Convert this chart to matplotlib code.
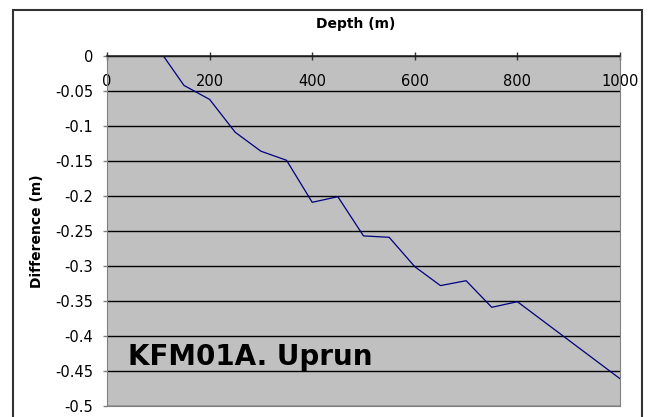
import numpy as np
import matplotlib
matplotlib.use('Agg')
import matplotlib.pyplot as plt
from matplotlib.patches import Rectangle

# borehole depth (m) and measured difference (m)
depth = [110, 150, 200, 250, 300, 350, 400, 450, 500, 550, 600, 650, 700, 750, 800, 1000]
diff = [0.0, -0.042, -0.062, -0.109, -0.136, -0.149, -0.209, -0.201,
        -0.257, -0.259, -0.301, -0.328, -0.321, -0.359, -0.351, -0.461]

x_ticks = [0, 200, 400, 600, 800, 1000]
y_ticks = np.arange(0, -0.51, -0.05)
y_labels = ['0', '-0.05', '-0.1', '-0.15', '-0.2', '-0.25', '-0.3',
            '-0.35', '-0.4', '-0.45', '-0.5']

W, H = 648, 417
fig = plt.figure(figsize=(W / 100, H / 100), dpi=100)

# chart frame
fig.patches.append(Rectangle((13 / W, -0.05), (642 - 13) / W, 1.05 - 10 / H,
                             transform=fig.transFigure, fill=False,
                             edgecolor='#333333', linewidth=1.5))

left, right, top, bottom = 107, 620, 56, 406
ax = fig.add_axes([left / W, (H - bottom) / H, (right - left) / W, (bottom - top) / H])
ax.set_facecolor('#c0c0c0')

ax.plot(depth, diff, color='#000080', linewidth=0.9, zorder=3)

ax.set_xlim(0, 1000)
ax.set_ylim(-0.5, 0)

ax.set_yticks(y_ticks)
ax.set_yticklabels(y_labels)
ax.yaxis.grid(True, color='black', linewidth=1)
ax.set_axisbelow(True)

ax.xaxis.tick_top()
ax.set_xticks(x_ticks)
ax.tick_params(axis='x', direction='inout', length=6, width=1, color='#333333',
               labelsize=10.5, pad=-27)
ax.tick_params(axis='y', direction='out', length=3, width=1, color='#808080',
               labelsize=10.5, pad=7)

for s in ['left', 'right', 'bottom']:
    ax.spines[s].set_color('#808080')
ax.spines['top'].set_color('#222222')
ax.spines['top'].set_linewidth(1.2)
ax.spines['top'].set_zorder(4)

fig.text(356 / W, 1 - 24 / H, 'Depth (m)', fontsize=10, fontweight='bold',
         ha='center', va='center')
fig.text(37 / W, 1 - 231 / H, 'Difference (m)', fontsize=10, fontweight='bold',
         rotation=90, ha='center', va='center')

ax.text(0.041, 0.117, 'KFM01A. Uprun', transform=ax.transAxes,
        fontsize=20, fontweight='bold', ha='left', va='baseline')

fig.savefig('out.png', dpi=100)
